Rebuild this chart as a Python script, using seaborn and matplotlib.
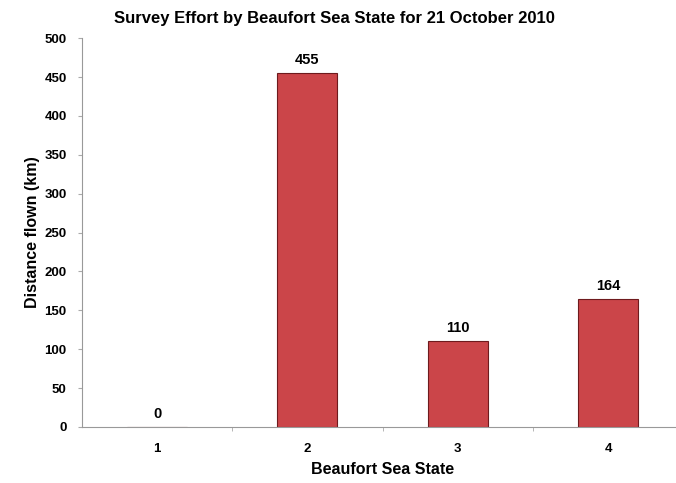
import pandas as pd
import seaborn as sns
import matplotlib.pyplot as plt
from matplotlib.ticker import FixedLocator

# data
sea_state = ['1', '2', '3', '4']
distance_km = [0, 455, 110, 164]

df = pd.DataFrame({'state': sea_state, 'km': distance_km})

sns.set_style('white')
plt.rcParams['font.family'] = ['Liberation Sans', 'DejaVu Sans']
plt.rcParams['text.color'] = 'black'
plt.rcParams['axes.labelcolor'] = 'black'
plt.rcParams['xtick.color'] = 'black'
plt.rcParams['ytick.color'] = 'black'

fig = plt.figure(figsize=(6.76, 4.83), dpi=100)
ax = fig.add_axes([0.121, 0.116, 0.89, 0.805])

sns.barplot(x='state', y='km', data=df, color='#cb4549', saturation=1,
            width=0.4, edgecolor='#6e1a1d', linewidth=0.8, ax=ax)

for i, v in enumerate(distance_km):
    ax.text(i, v + 8, str(v), ha='center', va='bottom', fontsize=10.5, fontweight='bold')

ax.set_ylim(0, 500)
ax.set_xlim(-0.5, 3.5)
ax.set_yticks(range(0, 501, 50))
ax.xaxis.set_minor_locator(FixedLocator([0.5, 1.5, 2.5]))
ax.tick_params(axis='y', left=True, length=3, color='#aaaaaa', labelcolor='black', labelsize=9.5, pad=8)
ax.tick_params(axis='x', which='major', bottom=False, labelcolor='black', labelsize=9.5, pad=8)
ax.tick_params(axis='x', which='minor', bottom=True, length=3, color='#aaaaaa')
for lbl in ax.get_xticklabels() + ax.get_yticklabels():
    lbl.set_fontweight('bold')

for s in ['top', 'right']:
    ax.spines[s].set_visible(False)
ax.spines['left'].set_color('#999999')
ax.spines['bottom'].set_color('#999999')

fig.suptitle('Survey Effort by Beaufort Sea State for 21 October 2010',
             x=0.495, y=0.978, fontsize=12, fontweight='bold')
ax.set_xlabel('Beaufort Sea State', fontsize=11.5, fontweight='bold', labelpad=5)
ax.set_ylabel('Distance flown (km)', fontsize=11.5, fontweight='bold', labelpad=3)

plt.savefig('out.png', dpi=100)
